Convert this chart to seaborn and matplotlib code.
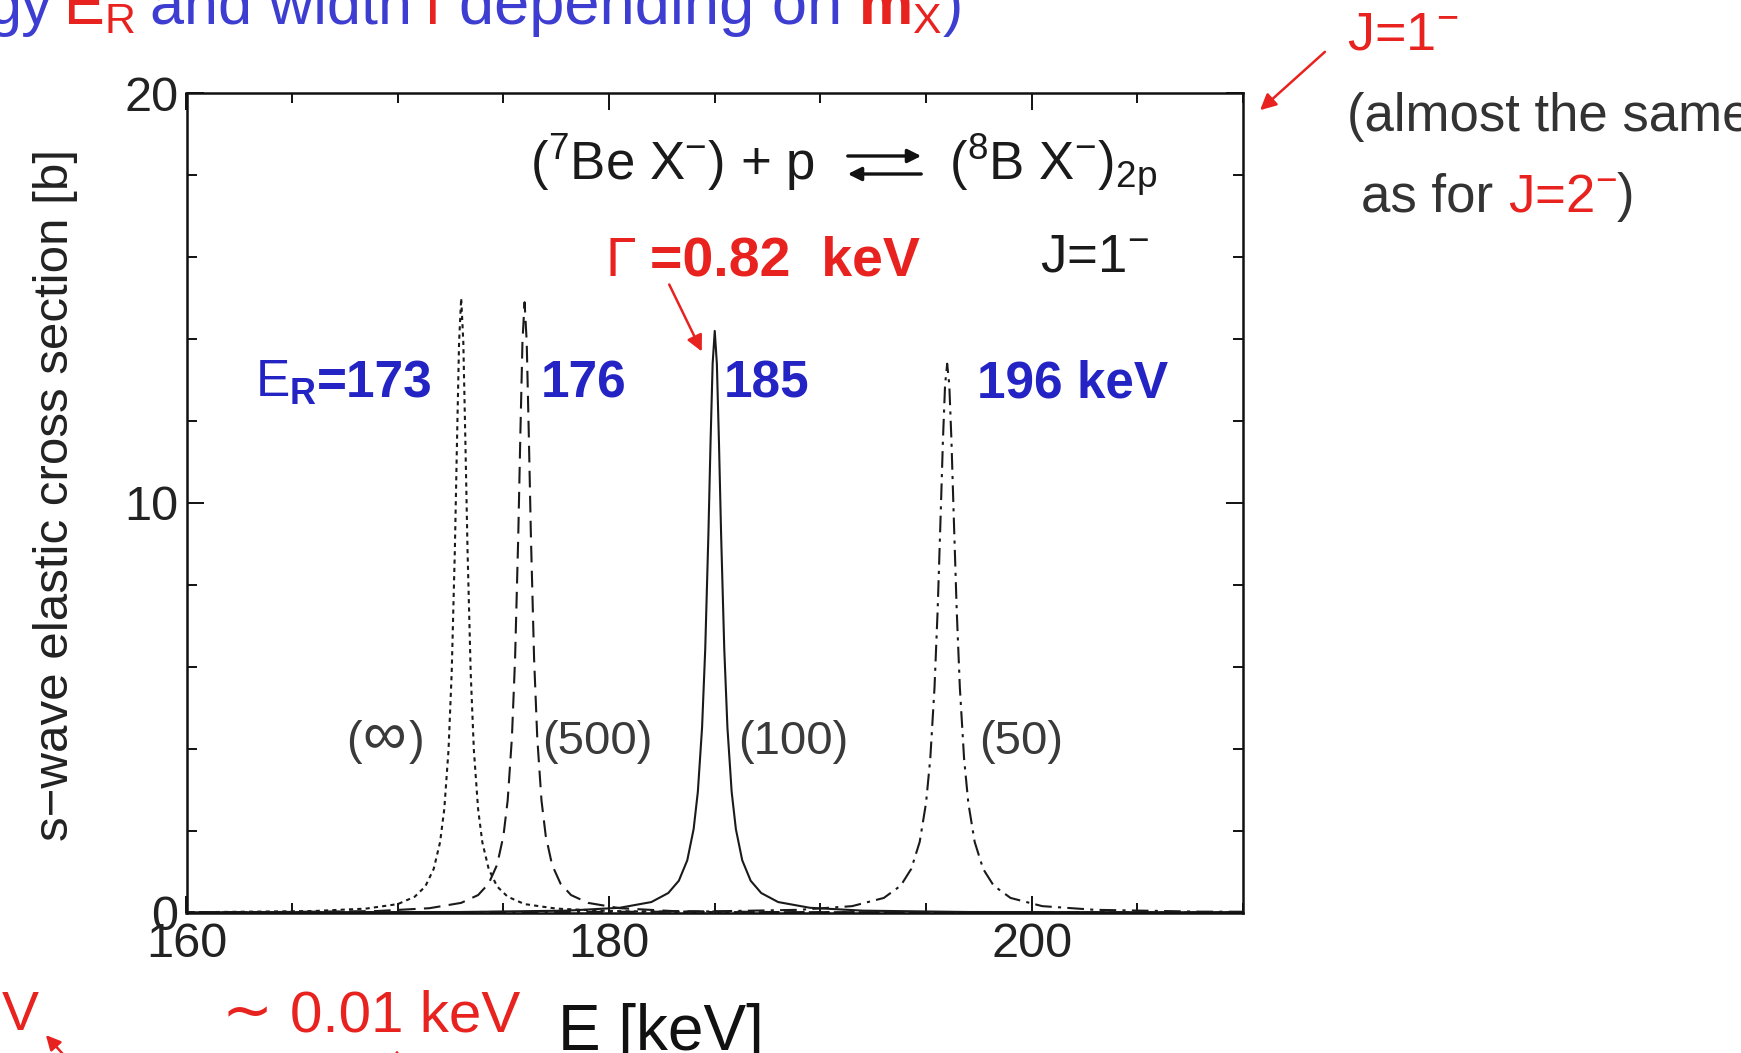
import matplotlib
matplotlib.use("Agg")
import matplotlib.pyplot as plt
from matplotlib.ticker import FixedLocator, MultipleLocator
import pandas as pd
import seaborn as sns

sns.set_theme(style="white")
plt.rcParams["font.family"] = ["Liberation Sans", "DejaVu Sans"]
plt.rcParams["mathtext.fontset"] = "custom"
plt.rcParams["mathtext.rm"] = "Liberation Sans"
plt.rcParams["mathtext.it"] = "Liberation Sans:italic"
plt.rcParams["mathtext.bf"] = "Liberation Sans:bold"

W, H, DPI = 1741, 1053, 100

# ---- resonance curves: s-wave elastic cross section vs. energy ----
# distance from the resonance energy (keV), one side of each symmetric peak
OFFSETS = [0.0, 0.1, 0.2, 0.3, 0.45, 0.6, 0.8, 1.0, 1.3, 1.7, 2.2, 3.0, 4.5, 7.0, 12.0, 40.0]
RESONANCE_E = [173, 176, 185, 196]           # E_R in keV
MASS_LABELS = ["(\u221e)", "(500)", "(100)", "(50)"]
SIGMA_INF = [15.0, 13.93, 11.46, 8.85, 5.85, 3.97, 2.53, 1.72, 1.07, 0.64, 0.39, 0.21, 0.10, 0.04, 0.015, 0.002]
SIGMA_500 = [14.9, 13.94, 11.67, 9.18, 6.20, 4.27, 2.74, 1.88, 1.17, 0.71, 0.43, 0.24, 0.11, 0.04, 0.015, 0.002]
SIGMA_100 = [14.2, 13.40, 11.47, 9.25, 6.44, 4.52, 2.95, 2.04, 1.28, 0.78, 0.48, 0.26, 0.12, 0.05, 0.017, 0.002]
SIGMA_50 = [13.4, 12.88, 11.55, 9.85, 7.40, 5.49, 3.76, 2.68, 1.73, 1.07, 0.66, 0.36, 0.16, 0.07, 0.025, 0.003]
SIGMAS = [SIGMA_INF, SIGMA_500, SIGMA_100, SIGMA_50]
LINESTYLES = [(0, (2.0, 2.0)), (0, (8, 4)), "-", (0, (8, 3, 1.5, 3))]

X_TICKS = [160, 180, 200]
Y_TICKS = [0, 10, 20]

rows = []
for er, lab, side in zip(RESONANCE_E, MASS_LABELS, SIGMAS):
    energies = [er - d for d in reversed(OFFSETS[1:])] + [er + d for d in OFFSETS]
    values = list(reversed(side[1:])) + list(side)
    rows += [{"E": e, "sigma": s, "mX": lab} for e, s in zip(energies, values)]
df = pd.DataFrame(rows)

fig = plt.figure(figsize=(W / DPI, H / DPI), dpi=DPI)
fig.patch.set_facecolor("white")

ax_l, ax_r, ax_t, ax_b = 186.5, 1243.0, 93.3, 912.7
ax = fig.add_axes([ax_l / W, 1 - ax_b / H, (ax_r - ax_l) / W, (ax_b - ax_t) / H])

for lab, ls in zip(MASS_LABELS, LINESTYLES):
    sub = df[df["mX"] == lab]
    sns.lineplot(data=sub, x="E", y="sigma", ax=ax, color="#1a1a1a", lw=1.5,
                 linestyle=ls, sort=False, estimator=None)

ax.set_xlim(160, 210)
ax.set_ylim(0, 20)
ax.xaxis.set_major_locator(FixedLocator(X_TICKS))
ax.xaxis.set_minor_locator(MultipleLocator(5))
ax.yaxis.set_major_locator(FixedLocator(Y_TICKS))
ax.yaxis.set_minor_locator(MultipleLocator(2))
ax.tick_params(which="both", direction="in", top=True, right=True,
               bottom=True, left=True, color="#111111", width=1.4)
ax.tick_params(which="major", length=12, labelsize=35, labelcolor="#222222")
ax.tick_params(axis="x", which="major", pad=7)
ax.tick_params(axis="y", which="major", pad=6)
ax.tick_params(which="minor", length=7)
for sp in ax.spines.values():
    sp.set_color("#111111")
    sp.set_linewidth(1.8)

ax.set_xlabel("E [keV]", fontsize=46, color="#111111")
ax.xaxis.set_label_coords((661 - ax_l) / (ax_r - ax_l), (ax_b - 1003) / (ax_b - ax_t))
ax.xaxis.label.set_va("top")
ax.set_ylabel("s\u2212wave elastic cross section [b]", fontsize=35.5, color="#222222")
ax.yaxis.set_label_coords((78 - ax_l) / (ax_r - ax_l), (ax_b - 495) / (ax_b - ax_t))

RED = "#e8231f"
BLUE = "#2424c4"
TBLUE = "#3d3dd2"
GRAY = "#3a3a3a"

renderer = fig.canvas.get_renderer()


def put(x, y, s, size, color, weight="normal", ha="left"):
    return fig.text(x / W, 1 - y / H, s, fontsize=size, color=color,
                    fontweight=weight, ha=ha, va="baseline")


def put_run(x, y, pieces, size, gap=0.0):
    for s, color, weight in pieces:
        t = put(x, y, s, size, color, weight)
        x = t.get_window_extent(renderer=renderer).x1 + gap


def arrow(x0, y0, x1, y1, color, lw=2.0, scale=22):
    fig.add_artist(matplotlib.patches.FancyArrowPatch(
        (x0 / W, 1 - y0 / H), (x1 / W, 1 - y1 / H), transform=fig.transFigure,
        arrowstyle="-|>", mutation_scale=scale, color=color, lw=lw))


# heading fragment across the top
put(52, 24, "gy", 44, TBLUE, ha="right")
put(63, 24, "E$_\\mathrm{R}$", 44, RED)
put(150, 24, "and width", 44, TBLUE)
put(425, 24, "\u0393", 44, RED)
put(459, 24, "depending on", 45.5, TBLUE)
put_run(858, 24, [("$\\mathbf{m}_\\mathrm{X}$", RED, "normal"),
                  (")", TBLUE, "normal")], 44)

# reaction inside the frame
put(530, 180, "($^{7}$Be X$^{-}$) + p", 38, "#1a1a1a")
put(949, 180, "($^{8}$B X$^{-}$)$_{2\\mathrm{p}}$", 38, "#1a1a1a")
arrow(845, 156, 924, 156, "#111111", lw=2.4, scale=20)
arrow(924, 174, 845, 174, "#111111", lw=2.4, scale=20)

put(1040, 272, "J=1$^{-}$", 38, "#1a1a1a")

put(605, 276, "\u0393", 40, RED)
put(650, 276, "=0.82  keV", 40, RED, weight="bold")
arrow(668, 282, 703, 354, RED, lw=1.8, scale=24)

# resonance energies
put_run(255, 397, [("E$_\\mathbf{R}$", BLUE, "normal"), ("=173", BLUE, "bold")], 37)
put(541, 397, "176", 37, BLUE, weight="bold")
put(724, 397, "185", 37, BLUE, weight="bold")
put(977, 397, "196 keV", 37, BLUE, weight="bold")

# X-particle masses for each curve
put(346, 754, "(", 34, GRAY)
put(362, 754, "\u221e", 44, GRAY)
put(409, 754, ")", 34, GRAY)
for x, lab in zip([542, 738, 979], MASS_LABELS[1:]):
    put(x, 754, lab, 34, GRAY)

# side notes
put(1347, 50, "J=1$^{-}$", 39, RED)
arrow(1327, 50, 1258, 112, RED, lw=1.8, scale=24)
put(1347, 131, "(almost the same", 38, "#333333")
put_run(1361, 211, [("as for ", "#333333", "normal"), ("J=2$^{-}$", RED, "normal"),
                    (")", "#333333", "normal")], 38)

# bottom notes
put(2, 1030, "V", 40, RED)
arrow(70, 1062, 44, 1033, RED, lw=1.8, scale=22)
put(222, 1031, "\u223c", 44, RED)
put(290, 1031, "0.01 keV", 42, RED)
arrow(397, 1075, 397, 1047, RED, lw=1.8, scale=22)

fig.savefig("out.png", dpi=DPI, facecolor="white")
